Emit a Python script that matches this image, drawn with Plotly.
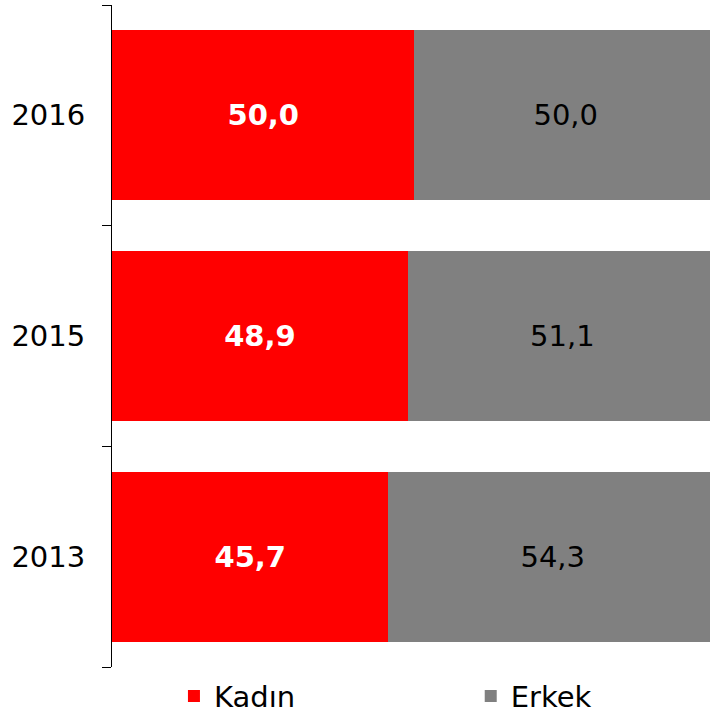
import plotly.graph_objects as go

years = ["2013", "2015", "2016"]
kadin = [45.7, 48.9, 50.0]
erkek = [54.3, 51.1, 50.0]
series_names = ["Kadın", "Erkek"]

FONT = "DejaVu Sans"
FS = 29

fig = go.Figure()
fig.add_trace(go.Bar(
    y=years, x=kadin, name=series_names[0], orientation="h",
    marker=dict(color="#FF0000", line=dict(width=0)),
    texttemplate="%{x:.1f}", textposition="inside", insidetextanchor="middle",
    textangle=0,
    textfont=dict(family=FONT, size=FS, color="white", weight="bold"),
    legend="legend",
))
fig.add_trace(go.Bar(
    y=years, x=erkek, name=series_names[1], orientation="h",
    marker=dict(color="#808080", line=dict(width=0)),
    texttemplate="%{x:.1f}", textposition="inside", insidetextanchor="middle",
    textangle=0,
    textfont=dict(family=FONT, size=FS, color="black"),
    legend="legend2",
))

leg_common = dict(
    orientation="h", xref="container", yref="container",
    xanchor="left", yanchor="middle", y=0.025,
    font=dict(family=FONT, size=FS, color="black"),
    itemclick=False, bgcolor="rgba(0,0,0,0)",
)

fig.update_layout(
    barmode="stack",
    bargap=0.23,
    separators=",.",
    width=710, height=714,
    margin=dict(l=112, r=0, t=5, b=47, autoexpand=False),
    plot_bgcolor="white", paper_bgcolor="white",
    font=dict(family=FONT, size=FS, color="black"),
    showlegend=True,
    legend=dict(x=0.245, **leg_common),
    legend2=dict(x=0.663, **leg_common),
    xaxis=dict(range=[0, 98.85], visible=False, fixedrange=True),
    yaxis=dict(
        type="category", categoryorder="array", categoryarray=years,
        showline=True, linecolor="black", linewidth=1,
        ticks="outside", ticklen=9, tickcolor="black", tickwidth=1,
        tickson="boundaries", showgrid=False, zeroline=False,
        ticklabelstandoff=20, automargin=False, fixedrange=True,
        tickfont=dict(family=FONT, size=FS, color="black"),
    ),
)

fig.write_html(
    "out.html",
    config={"displayModeBar": False, "staticPlot": False},
    post_script="document.body.style.margin='0';",
)
